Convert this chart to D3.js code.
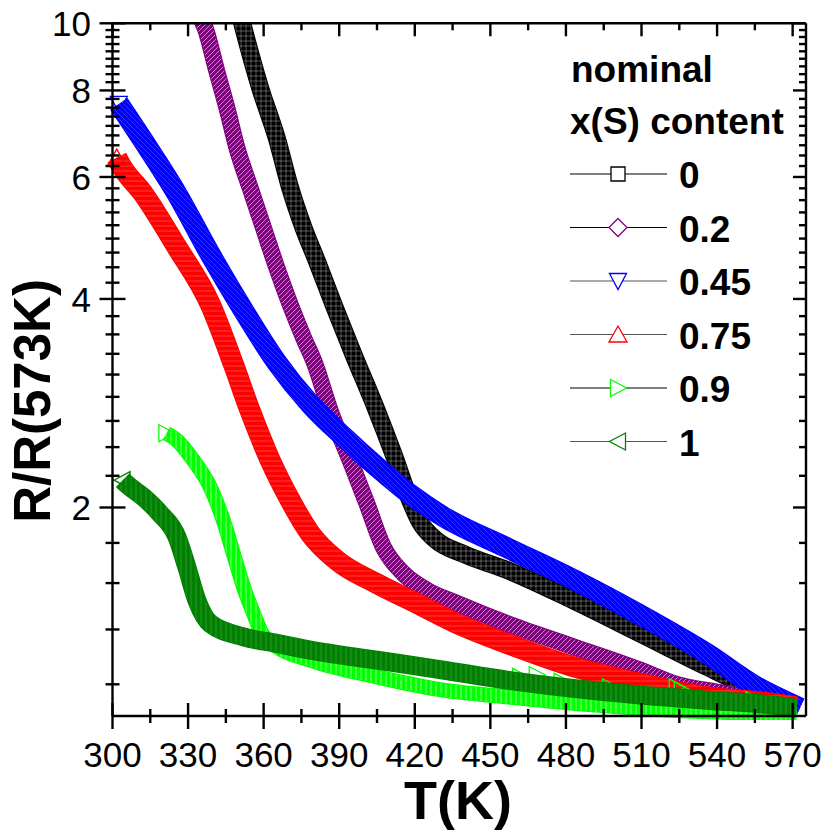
<!DOCTYPE html>
<html>
<head>
<meta charset="utf-8">
<script src="https://cdn.jsdelivr.net/npm/d3@7"></script>
<style>
  html, body { margin: 0; padding: 0; background: #fff; }
  svg { display: block; font-family: "Liberation Sans", Arial, Helvetica, sans-serif; }
</style>
</head>
<body>
<svg id="chart" width="824" height="832"></svg>
<script>
// ---------------- DATA ----------------
const seriesLabels = ["0", "0.2", "0.45", "0.75", "0.9", "1"];

// x(S) = 0   (black squares)
const temp0  = [350.6, 352.0, 358.6, 365.2, 370.5, 375.8, 381.1, 387.7, 395.6, 404.9, 411.5, 418.1, 422.1, 428.0, 440.0, 456.5, 482.9, 509.4, 535.9, 555.7, 568.9, 572.9];
const ratio0 = [10.3, 9.84, 8.07, 6.83, 5.79, 5.07, 4.54, 3.93, 3.33, 2.76, 2.39, 2.05, 1.905, 1.800, 1.710, 1.625, 1.469, 1.316, 1.178, 1.090, 1.043, 1.027];

// x(S) = 0.2 (purple diamonds)
const temp02  = [333.5, 336.8, 341.4, 345.4, 349.4, 354.6, 359.9, 365.2, 370.5, 375.8, 380.4, 386.4, 394.3, 400.9, 407.5, 415.5, 424.8, 436.7, 456.5, 482.9, 509.4, 522.6, 542.5, 562.3, 571.6];
const ratio02 = [10.4, 9.84, 8.53, 7.55, 6.61, 5.79, 5.07, 4.44, 3.93, 3.52, 3.22, 2.76, 2.34, 2.03, 1.754, 1.606, 1.519, 1.454, 1.360, 1.259, 1.165, 1.115, 1.078, 1.043, 1.031];

// x(S) = 0.45 (blue down triangles)
const temp045  = [302.5, 312.3, 325.6, 338.8, 352.0, 365.2, 378.5, 391.7, 404.9, 418.1, 431.3, 456.5, 482.9, 509.4, 535.9, 555.7, 568.9, 572.9];
const ratio045 = [7.65, 6.76, 5.67, 4.64, 3.85, 3.24, 2.82, 2.53, 2.29, 2.09, 1.94, 1.750, 1.575, 1.400, 1.231, 1.102, 1.043, 1.027];

// x(S) = 0.75 (red up triangles)
const temp075  = [301.7, 303.1, 312.3, 325.6, 338.8, 348.0, 354.6, 362.6, 370.5, 378.5, 389.0, 404.9, 420.8, 436.7, 456.5, 482.9, 509.4, 535.9, 562.3, 571.6];
const ratio075 = [6.40, 6.26, 5.67, 4.75, 3.93, 3.22, 2.76, 2.34, 2.05, 1.834, 1.678, 1.553, 1.454, 1.360, 1.273, 1.178, 1.115, 1.066, 1.043, 1.031];

// x(S) = 0.9 (light green right triangles)
const temp09  = [321.4, 325.6, 332.1, 338.8, 344.0, 348.0, 352.0, 356.0, 359.3, 365.2, 378.5, 404.9, 431.3, 456.5, 482.9, 509.4, 535.9, 562.3, 571.6];
const ratio09 = [2.56, 2.50, 2.34, 2.14, 1.916, 1.716, 1.536, 1.406, 1.316, 1.259, 1.204, 1.139, 1.090, 1.066, 1.043, 1.026, 1.014, 1.009, 1.009];
// scattered 0.9 points lying above its main band
const temp09Scatter  = [461.8, 468.4, 478.3, 497.5, 524.0, 526.0, 554.4];
const ratio09Scatter = [1.139, 1.146, 1.121, 1.100, 1.100, 1.090, 1.054];

// x(S) = 1 (dark green left triangles)
const temp1  = [304.0, 305.7, 312.3, 318.9, 325.6, 329.5, 333.5, 338.8, 352.0, 365.2, 378.5, 404.9, 431.3, 456.5, 482.9, 509.4, 535.9, 562.3, 571.6];
const ratio1 = [2.19, 2.16, 2.07, 1.96, 1.813, 1.641, 1.469, 1.360, 1.301, 1.273, 1.245, 1.204, 1.165, 1.127, 1.096, 1.072, 1.054, 1.037, 1.026];

// axis ticks
const xMajorTicks = [300, 330, 360, 390, 420, 450, 480, 510, 540, 570];
const xMinorTicks = [315, 345, 375, 405, 435, 465, 495, 525, 555];
const yMajorTicks = [2, 4, 6, 8, 10];
const yTickLabels = ["2", "4", "6", "8", "10"];

// ---------------- STYLES ----------------
const styles = [
  { color: "#000000", shape: "square",   band: 18, hatch: "#ffffff", hop: 0.35, hatchDir: "grid" },
  { color: "#800080", shape: "diamond",  band: 17, hatch: "#ffffff", hop: 0.6,  hatchDir: "diag" },
  { color: "#0000ff", shape: "triDown",  band: 21, hatch: "#ffffff", hop: 0.22, hatchDir: "diag2" },
  { color: "#ff0000", shape: "triUp",    band: 21, hatch: "#ffffff", hop: 0.25, hatchDir: "horiz" },
  { color: "#00ff00", shape: "triRight", band: 15, hatch: "#ffffff", hop: 0.6,  hatchDir: "vert" },
  { color: "#008000", shape: "triLeft",  band: 19, hatch: "#ffffff", hop: 0.2,  hatchDir: "vert" }
];

const series = [
  [temp0, ratio0], [temp02, ratio02], [temp045, ratio045],
  [temp075, ratio075], [temp09, ratio09], [temp1, ratio1]
].map(([t, r], i) => ({ label: seriesLabels[i], pts: t.map((d, j) => ({ T: d, R: r[j] })), ...styles[i] }));

function markerPath(shape) {
  switch (shape) {
    case "square":   return "M-7,-7H7V7H-7Z";
    case "diamond":  return "M0,-9L9,0L0,9L-9,0Z";
    case "triDown":  return "M-8.5,-7.5H8.5L0,8.5Z";
    case "triUp":    return "M0,-8.5L9,7.5H-9Z";
    case "triRight": return "M-7.5,-8.5L8.5,0L-7.5,8.5Z";
    case "triLeft":  return "M7.5,-8.5L-8.5,0L7.5,8.5Z";
  }
}

// ---------------- CHART ----------------
const svg = d3.select("#chart");
const L = 112.5, R = 806, T = 23.3, B = 716;

const x = d3.scaleLinear().domain([300, 575.3]).range([L, R]);
const y = d3.scaleLog().domain([1, 10]).range([B, T]);

const defs = svg.append("defs");
defs.append("clipPath").attr("id", "clip")
  .append("rect").attr("x", 100).attr("y", T).attr("width", R - 100 + 4).attr("height", B - T + 4);

// faint streak textures imitating the dense overlapping open symbols
series.forEach((s, i) => {
  const p = defs.append("pattern").attr("id", "hatch" + i)
    .attr("patternUnits", "userSpaceOnUse").attr("width", 5).attr("height", 5);
  const d = s.hatchDir === "diag" ? "M0,5L5,0M-1,1L1,-1M4,6L6,4"
          : s.hatchDir === "diag2" ? "M0,0L5,5M-1,4L1,6M4,-1L6,1"
          : s.hatchDir === "vert" ? "M1,0V5"
          : s.hatchDir === "grid" ? "M1,0V5M0,1H5"
          : "M0,1H5";
  p.append("path").attr("d", d).attr("stroke", s.hatch).attr("stroke-width", 0.9).attr("stroke-opacity", s.hop);
});

const plot = svg.append("g").attr("clip-path", "url(#clip)");
const line = d3.line().x(d => x(d.T)).y(d => y(d.R)).curve(d3.curveMonotoneX);

series.forEach((s, i) => {
  const g = plot.append("g");
  const first = s.pts[0];
  g.append("path").attr("d", markerPath(s.shape))
    .attr("transform", `translate(${x(first.T)},${y(first.R)})`)
    .attr("fill", "#fff").attr("stroke", "none");
  g.append("path").datum(s.pts).attr("d", line)
    .attr("fill", "none").attr("stroke", s.color).attr("stroke-width", s.band)
    .attr("stroke-linejoin", "round").attr("stroke-linecap", "butt");
  g.append("path").datum(s.pts).attr("d", line)
    .attr("fill", "none").attr("stroke", `url(#hatch${i})`).attr("stroke-width", s.band - 2)
    .attr("stroke-linejoin", "round").attr("stroke-linecap", "butt");
  g.append("path").attr("d", markerPath(s.shape))
    .attr("transform", `translate(${x(first.T)},${y(first.R)})`)
    .attr("fill", "none").attr("stroke", s.color).attr("stroke-width", 1.3);
  if (s.label === "0.9") {
    g.selectAll("path.sc")
      .data(temp09Scatter.map((t, j) => ({ T: t, R: ratio09Scatter[j] })))
      .join("path")
      .attr("class", "sc")
      .attr("d", markerPath(s.shape))
      .attr("transform", d => `translate(${x(d.T)},${y(d.R)})`)
      .attr("fill", "none")
      .attr("stroke", s.color)
      .attr("stroke-width", 1.3);
  }
});

// ---------------- AXES ----------------
const axisG = svg.append("g").attr("stroke", "#000").attr("stroke-width", 2.4).attr("fill", "none");

axisG.append("line").attr("x1", L).attr("x2", R).attr("y1", B).attr("y2", B);
axisG.append("line").attr("x1", L).attr("x2", R).attr("y1", T).attr("y2", T);
axisG.append("line").attr("x1", L).attr("x2", L).attr("y1", T).attr("y2", B);
axisG.append("line").attr("x1", R).attr("x2", R).attr("y1", T).attr("y2", B);

const MAJ = 13, MIN = 7;
xMajorTicks.forEach(v => {
  axisG.append("line").attr("x1", x(v)).attr("x2", x(v)).attr("y1", B - MAJ).attr("y2", B + MAJ);
  axisG.append("line").attr("x1", x(v)).attr("x2", x(v)).attr("y1", T).attr("y2", T + MAJ);
});
xMinorTicks.forEach(v => {
  axisG.append("line").attr("x1", x(v)).attr("x2", x(v)).attr("y1", B - MIN).attr("y2", B + MIN);
  axisG.append("line").attr("x1", x(v)).attr("x2", x(v)).attr("y1", T).attr("y2", T + MIN);
});

const yMinorTicks = [];
[0, 2, 4, 6, 8].forEach(m => { for (let j = 1; j <= 8; j++) { const v = m + j * 2 / 9; if (v > 1 && v < 10) yMinorTicks.push(v); } });

yMajorTicks.forEach(v => {
  axisG.append("line").attr("y1", y(v)).attr("y2", y(v)).attr("x1", L - MAJ).attr("x2", L + MAJ);
  axisG.append("line").attr("y1", y(v)).attr("y2", y(v)).attr("x1", R - MAJ).attr("x2", R);
});
yMinorTicks.forEach(v => {
  axisG.append("line").attr("y1", y(v)).attr("y2", y(v)).attr("x1", L - MIN).attr("x2", L + MIN);
  axisG.append("line").attr("y1", y(v)).attr("y2", y(v)).attr("x1", R - MIN).attr("x2", R);
});

svg.append("g").selectAll("text").data(xMajorTicks).join("text")
  .attr("x", d => x(d)).attr("y", 766.5)
  .attr("text-anchor", "middle").attr("font-size", 35).attr("fill", "#000")
  .text(d => d);

svg.append("g").selectAll("text").data(yMajorTicks).join("text")
  .attr("x", 91).attr("y", d => y(d)).attr("dy", "0.36em")
  .attr("text-anchor", "end").attr("font-size", 35).attr("fill", "#000")
  .text((d, i) => yTickLabels[i]);

svg.append("text").attr("x", 458).attr("y", 819).attr("text-anchor", "middle")
  .attr("font-size", 54).attr("font-weight", "bold").text("T(K)");
svg.append("text").attr("transform", "translate(50,401) rotate(-90)").attr("text-anchor", "middle")
  .attr("font-size", 51).attr("font-weight", "bold").text("R/R(573K)");

// ---------------- LEGEND ----------------
const leg = svg.append("g");
leg.append("text").attr("x", 571).attr("y", 82).attr("font-size", 37).attr("font-weight", "bold").text("nominal");
leg.append("text").attr("x", 570).attr("y", 133.5).attr("font-size", 37).attr("font-weight", "bold").text("x(S) content");

series.forEach((s, i) => {
  const ly = 174 + i * 53.5;
  const lineColor = (i === 0 || i === 1 || i === 4) ? "#000" : "#555";
  leg.append("line").attr("x1", 570).attr("x2", 667).attr("y1", ly).attr("y2", ly)
    .attr("stroke", lineColor).attr("stroke-width", 1.2);
  leg.append("path").attr("d", markerPath(s.shape)).attr("transform", `translate(618,${ly})`)
    .attr("fill", "#fff").attr("stroke", s.color).attr("stroke-width", 1.3);
  leg.append("text").attr("x", 679).attr("y", ly + 14.3).attr("font-size", 37).attr("font-weight", "bold")
    .text(s.label);
});
</script>
</body>
</html>
